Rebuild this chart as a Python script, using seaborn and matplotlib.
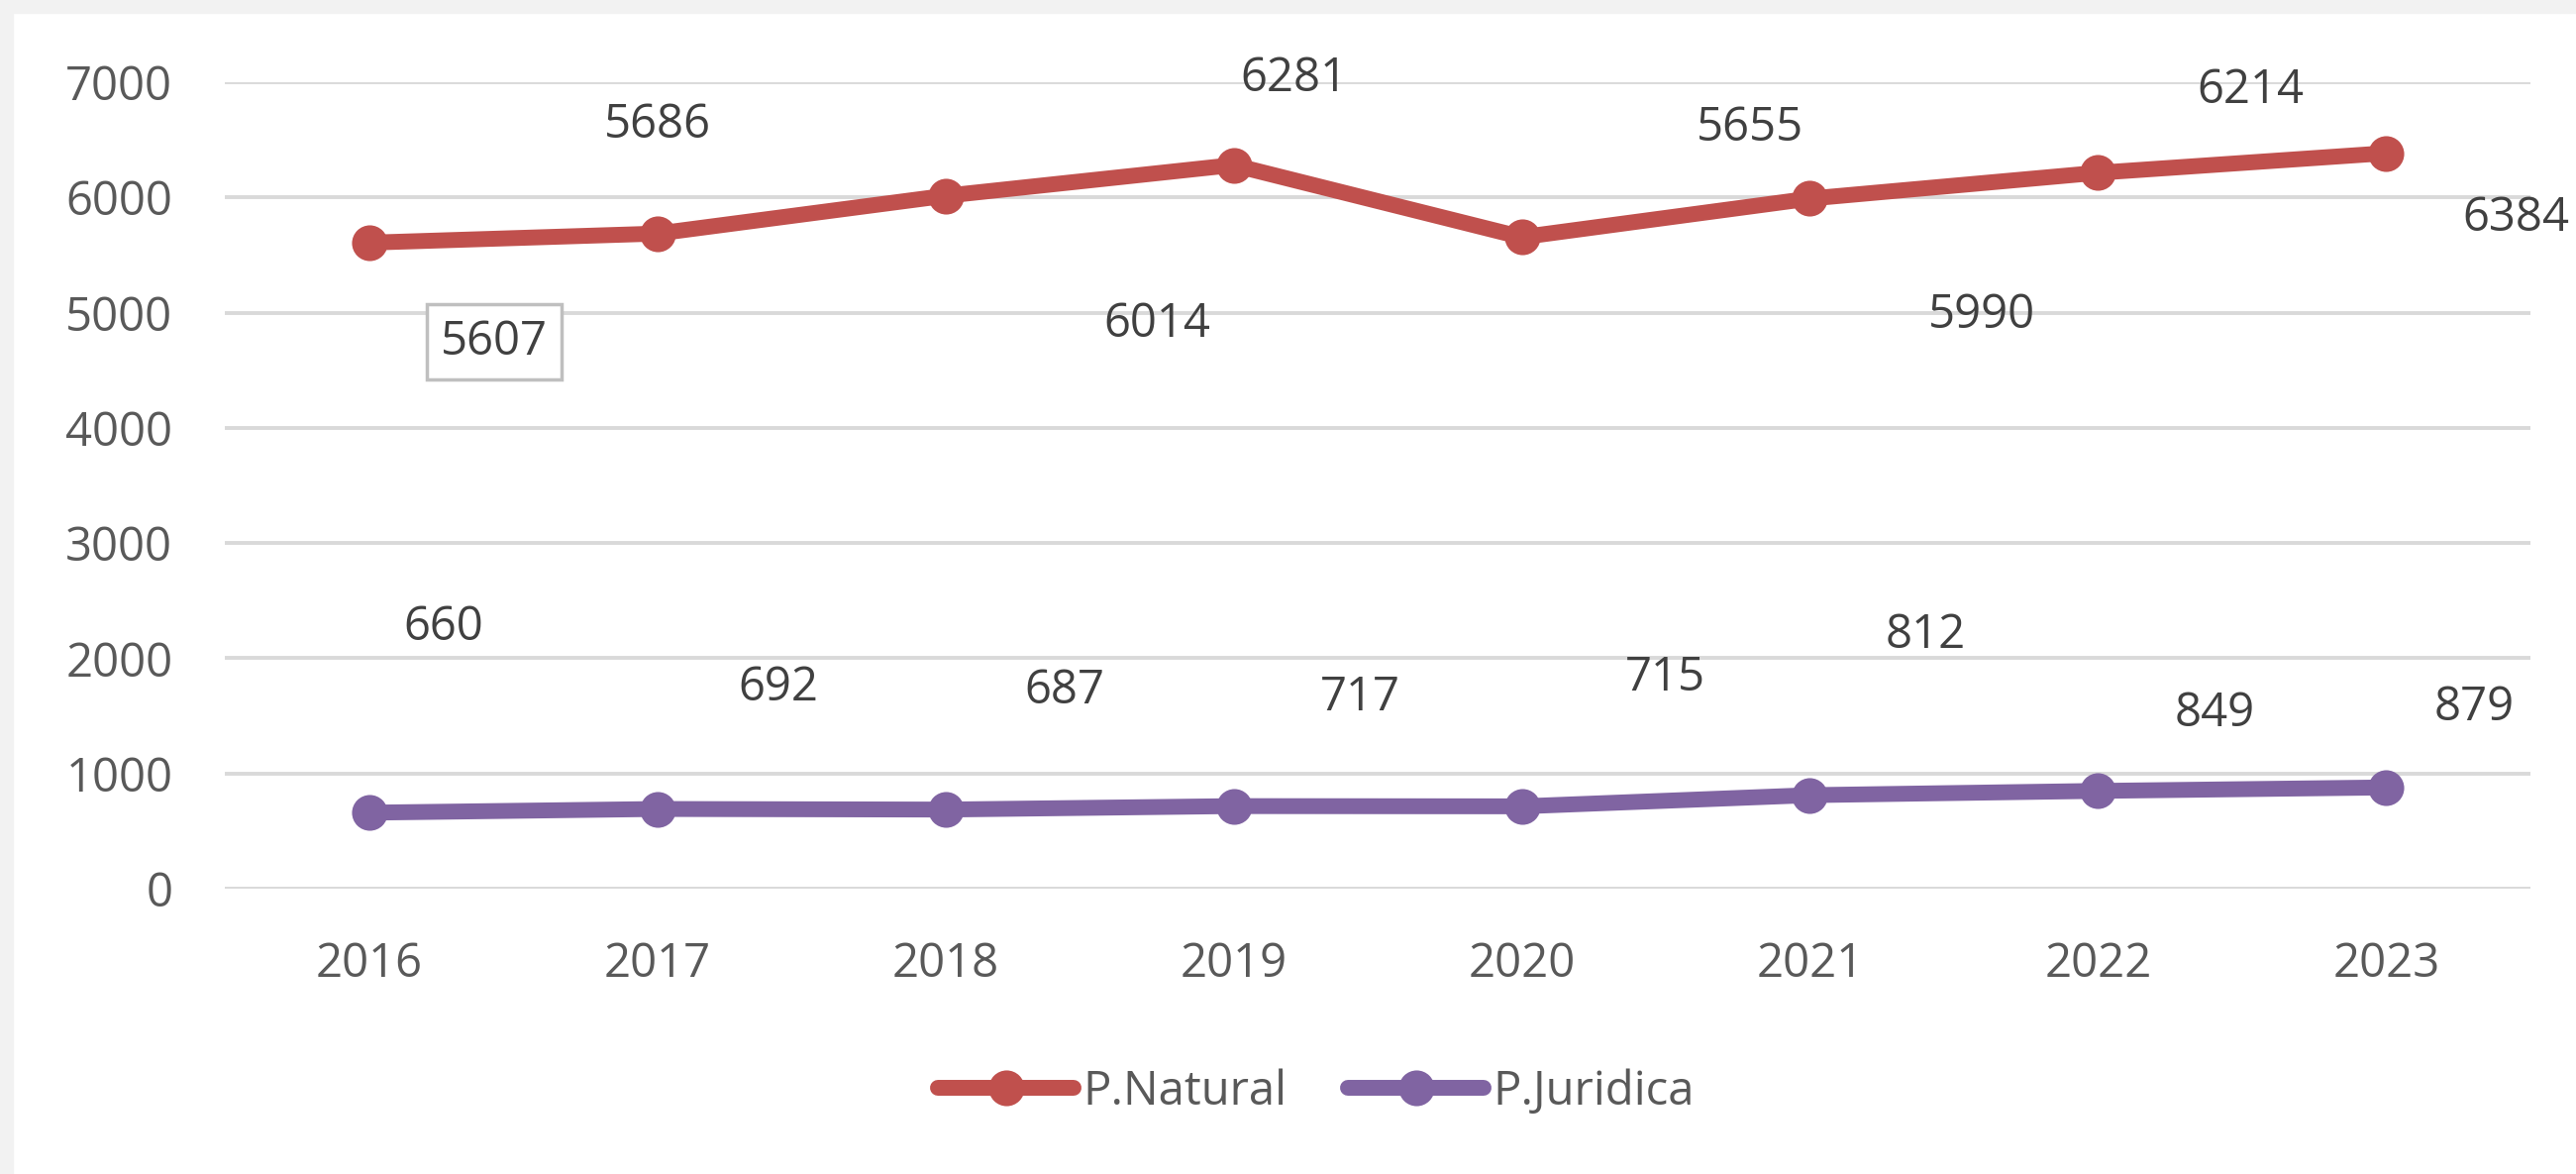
import pandas as pd
import seaborn as sns
import matplotlib.pyplot as plt
from matplotlib.patches import Rectangle

# data
years = [2016, 2017, 2018, 2019, 2020, 2021, 2022, 2023]
natural = [5607, 5686, 6014, 6281, 5655, 5990, 6214, 6384]
juridica = [660, 692, 687, 717, 715, 812, 849, 879]
series_names = ['P.Natural', 'P.Juridica']
y_ticks = [0, 1000, 2000, 3000, 4000, 5000, 6000, 7000]

# label offsets (points) from each point, as in the original Excel chart
natural_offsets = [(91, -72), (0, 79), (154, -93), (44, 63), (166, 79), (125, -85), (111, 60), (94, -47)]
juridica_offsets = [(54, 135), (88, 88), (87, 86), (92, 79), (104, 93), (84, 116), (85, 56), (64, 58)]

df = pd.DataFrame({
    'year': years * 2,
    'value': natural + juridica,
    'serie': [series_names[0]] * len(years) + [series_names[1]] * len(years),
})

sns.set_style('white')
plt.rcParams['font.family'] = ['Open Sans', 'DejaVu Sans']

fig = plt.figure(figsize=(26.01, 11.85), dpi=100, facecolor='white')
# grey strip on top and left like the screenshot
fig.patches.append(Rectangle((0, 0), 13 / 2601, 1, transform=fig.transFigure, color='#f2f2f2', zorder=-10))
fig.patches.append(Rectangle((0, 1 - 13 / 1185), 1, 13 / 1185, transform=fig.transFigure, color='#f2f2f2', zorder=-10))

ax = fig.add_axes([0.0873, 0.243, 0.895, 0.687])
colors = {'P.Natural': '#C0504D', 'P.Juridica': '#8064A2'}

sns.lineplot(data=df, x='year', y='value', hue='serie', palette=colors, marker='o',
             markersize=26, markeredgewidth=0, linewidth=11.5, ax=ax, legend=False)

ax.set_xlim(years[0] - 0.5, years[-1] + 0.5)
ax.set_ylim(0, 7000)
ax.set_xticks(years)
ax.set_xticklabels([str(y) for y in years])
ax.set_yticks(y_ticks)
ax.set_xlabel('')
ax.set_ylabel('')
ax.tick_params(axis='both', length=0, labelsize=34, labelcolor='#595959', pad=38)
ax.grid(axis='y', color='#d9d9d9', linewidth=2.8, linestyle='-')
ax.set_axisbelow(True)
for s in ax.spines.values():
    s.set_visible(False)

# data labels
for i, (x, v) in enumerate(zip(years, natural)):
    bbox = None
    if i == 0:
        bbox = dict(boxstyle='square,pad=0.3', fc='white', ec='#bfbfbf', lw=2.5)
    ax.annotate(str(v), (x, v), xytext=natural_offsets[i], textcoords='offset points',
                ha='center', va='center', fontsize=34, color='#404040', bbox=bbox,
                annotation_clip=False)
for i, (x, v) in enumerate(zip(years, juridica)):
    ax.annotate(str(v), (x, v), xytext=juridica_offsets[i], textcoords='offset points',
                ha='center', va='center', fontsize=34, color='#404040', annotation_clip=False)

handles = ax.get_lines()[:2]
fig.legend(handles, series_names, loc='center', bbox_to_anchor=(0.511, 0.07), ncol=2,
           frameon=False, fontsize=34, labelcolor='#595959', handlelength=2.9,
           handletextpad=0.2, columnspacing=1.3)

plt.savefig('out.png', dpi=100)
